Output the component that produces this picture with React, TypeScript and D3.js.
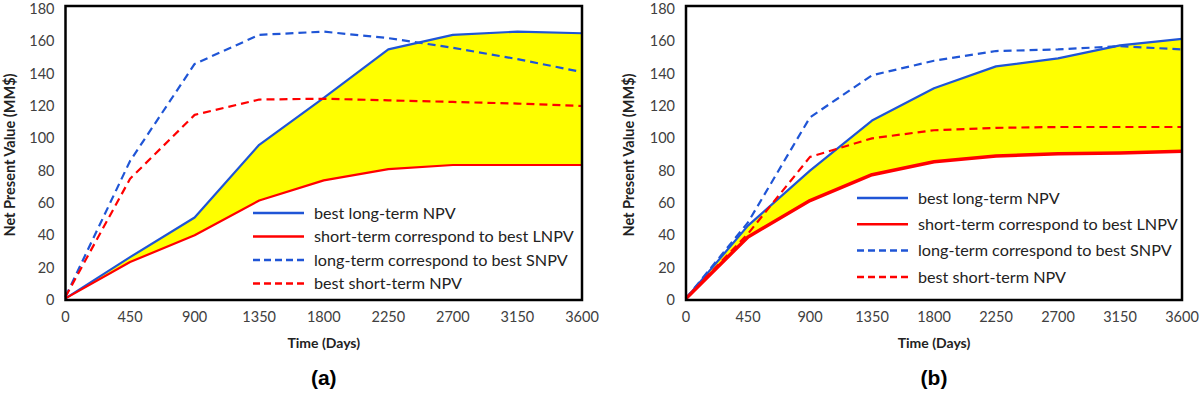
import React from "react";
import * as d3 from "d3";

// time axis (days) shared by both panels
const days = [0, 450, 900, 1350, 1800, 2250, 2700, 3150, 3600];
const xTicks = [0, 450, 900, 1350, 1800, 2250, 2700, 3150, 3600];
const yTicks = [0, 20, 40, 60, 80, 100, 120, 140, 160, 180];

// panel (a)
const aBestLong = [1, 26.5, 51, 96, 125, 155, 164, 166, 165];
const aShortOfLong = [1, 23.5, 40, 61.5, 74, 81, 83.5, 83.5, 83.5];
const aLongOfShort = [2, 86, 146, 164, 166, 162, 156, 149, 141];
const aBestShort = [2, 75, 114.5, 124, 124.5, 123.5, 122.5, 121.5, 120];

// panel (b)
const bBestLong = [1, 46, 80, 111, 131, 144.5, 149.5, 157.5, 161.5];
const bShortOfLong = [1, 39, 61.5, 77.5, 85.5, 89, 90.5, 91, 92];
const bLongOfShort = [1, 48, 113, 139, 148, 154, 155, 157, 155];
const bBestShort = [1, 41, 88.5, 100, 105, 106.5, 107, 107, 107];

const legendLabels = [
  "best long-term NPV",
  "short-term correspond to best LNPV",
  "long-term correspond to best SNPV",
  "best short-term NPV",
];

const BLUE = "#1f55d6";
const RED = "#ff0000";
const FONT = "Lato, 'Open Sans', sans-serif";

type PanelProps = {
  x0: number;
  x1: number;
  bestLong: number[];
  shortOfLong: number[];
  longOfShort: number[];
  bestShort: number[];
  redWidth: number;
  legend: { x: number; y: number; gap: number };
  titleX: number;
  tag: string;
};

const Panel = (p: PanelProps) => {
  const x = d3.scaleLinear().domain([0, 3600]).range([p.x0, p.x1]);
  const y = d3.scaleLinear().domain([0, 180]).range([300, 9]);

  const pts = (vals: number[]) => days.map((d, i) => [d, vals[i]] as [number, number]);
  const line = d3
    .line<[number, number]>()
    .x((d) => x(d[0]))
    .y((d) => y(d[1]));
  const area = d3
    .area<number>()
    .x((_, i) => x(days[i]))
    .y0((_, i) => y(p.shortOfLong[i]))
    .y1((d) => y(d));

  const series = [
    { vals: p.bestLong, color: BLUE, dash: "", w: 2.2 },
    { vals: p.shortOfLong, color: RED, dash: "", w: p.redWidth },
    { vals: p.longOfShort, color: BLUE, dash: "8,5", w: 2.2 },
    { vals: p.bestShort, color: RED, dash: "8,5", w: 2.2 },
  ];

  const top = 6;
  const bottom = y(0);
  const mid = (p.x0 + p.x1) / 2;

  return (
    <g>
      <path d={area(p.bestLong) || ""} fill="#ffff00" stroke="none" />
      {series.map((s, i) => (
        <path
          key={i}
          d={line(pts(s.vals)) || ""}
          fill="none"
          stroke={s.color}
          strokeWidth={s.w}
          strokeDasharray={s.dash || undefined}
          strokeLinejoin="round"
        />
      ))}
      {/* frame */}
      <rect
        x={p.x0}
        y={top}
        width={p.x1 - p.x0}
        height={bottom - top}
        fill="none"
        stroke="#000"
        strokeWidth={2.5}
      />
      {/* y ticks */}
      {yTicks.map((t) => (
        <text
          key={t}
          x={p.x0 - 11}
          y={y(t)}
          dy="0.35em"
          textAnchor="end"
          fontFamily={FONT}
          fontSize={14.5}
          fill="#404040"
        >
          {t}
        </text>
      ))}
      {/* x ticks */}
      {xTicks.map((t) => (
        <text
          key={t}
          x={x(t)}
          y={317}
          dy="0.35em"
          textAnchor="middle"
          fontFamily={FONT}
          fontSize={14.5}
          fill="#404040"
        >
          {t}
        </text>
      ))}
      <text
        x={mid}
        y={343}
        dy="0.35em"
        textAnchor="middle"
        fontFamily={FONT}
        fontWeight="bold"
        fontSize={14}
        fill="#222"
      >
        Time (Days)
      </text>
      <text
        transform={`translate(${p.titleX},155) rotate(-90)`}
        textAnchor="middle"
        dy="0.35em"
        fontFamily={FONT}
        fontWeight="bold"
        fontSize={14.5}
        fill="#222"
      >
        Net Present Value (MM$)
      </text>
      <text
        x={mid}
        y={378}
        dy="0.35em"
        textAnchor="middle"
        fontFamily="'Liberation Sans', Arial, sans-serif"
        fontWeight="bold"
        fontSize={21}
        fill="#000"
      >
        {p.tag}
      </text>
      {/* legend */}
      {series.map((s, i) => {
        const ly = p.legend.y + i * p.legend.gap;
        return (
          <g key={i}>
            <line
              x1={p.legend.x}
              x2={p.legend.x + 51}
              y1={ly}
              y2={ly}
              stroke={s.color}
              strokeWidth={2.5}
              strokeDasharray={s.dash ? "7,4" : undefined}
            />
            <text
              x={p.legend.x + 61}
              y={ly}
              dy="0.35em"
              fontFamily={FONT}
              fontSize={16.2}
              fill="#222"
            >
              {legendLabels[i]}
            </text>
          </g>
        );
      })}
    </g>
  );
};

export default function App() {
  return (
    <div style={{ position: "absolute", left: 0, top: 0 }}>
      <svg width={1200} height={395} style={{ display: "block", background: "#fff" }}>
        <Panel
          x0={65.5}
          x1={582}
          bestLong={aBestLong}
          shortOfLong={aShortOfLong}
          longOfShort={aLongOfShort}
          bestShort={aBestShort}
          redWidth={2.2}
          legend={{ x: 253, y: 213, gap: 23.5 }}
          titleX={10}
          tag="(a)"
        />
        <Panel
          x0={686}
          x1={1182}
          bestLong={bBestLong}
          shortOfLong={bShortOfLong}
          longOfShort={bLongOfShort}
          bestShort={bBestShort}
          redWidth={3.5}
          legend={{ x: 857, y: 198, gap: 26.3 }}
          titleX={629}
          tag="(b)"
        />
      </svg>
    </div>
  );
}
